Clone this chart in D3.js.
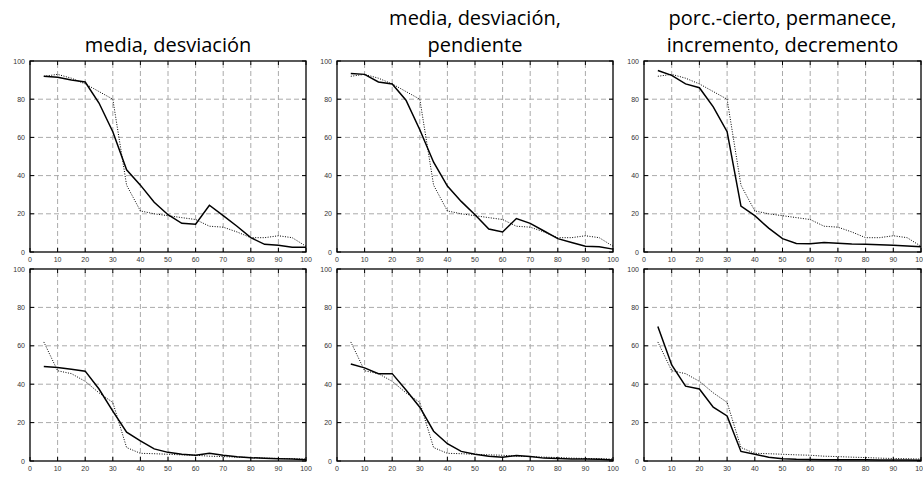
<!DOCTYPE html>
<html>
<head>
<meta charset="utf-8">
<title>curvas</title>
<script src="https://d3js.org/d3.v7.min.js"></script>
<style>
  body { margin: 0; background: #fff; }
  text { font-family: "Liberation Sans", Arial, sans-serif; }
  .title { font-family: "Open Sans", "DejaVu Sans", sans-serif; font-size: 20px; }
</style>
</head>
<body>
<script>
var width = 923, height = 477

var xs = [5,10,15,20,25,30,35,40,45,50,55,60,65,70,75,80,85,90,95,100]
var xTicks = [0,10,20,30,40,50,60,70,80,90,100]
var yTicks = [0,20,40,60,80,100]

var titles = [
  ["media, desviación"],
  ["media, desviación,", "pendiente"],
  ["porc.-cierto, permanece,", "incremento, decremento"]
]

// dotted reference curves (same in each row)
var refTop = [92,93,91,88,84,80,35,21.5,20,19,18,17,13.5,13,10.5,7.5,7.5,8.5,7.5,3]
var refBottom = [62,47,45.5,41.5,35.5,30.5,7,4,3.8,3.5,3.2,3,2.5,2.3,2,1.8,1.5,1.3,1.2,1]

// solid curves
var top1 = [92,91.5,90,89,78,63,43,35,26,19.5,15,14.5,24.5,19,13.5,7.5,4,3.5,2.5,2.5]
var top2 = [93.5,93,89,88,79.5,64,47,34.5,26.5,19.5,12,10.5,17.5,15,11,7,5,3,2.8,1.5]
var top3 = [95,92.5,88,86,76,63,24,19,12.5,7,4.5,4.3,5,4.6,4.2,4,3.8,3.5,3.2,2.7]
var bot1 = [49.2,48.7,47.8,46.8,37.5,26,15,10.5,6.3,4.5,3.5,3,4,3,2.2,1.7,1.4,1.2,1,0.7]
var bot2 = [50.5,48.5,45.5,45.5,37,28,15.5,9,5,3.5,2.5,2,2.8,2.4,1.5,1.3,1.1,1,0.9,0.5]
var bot3 = [70,50,39,37.5,28,23.5,5,3.5,2,1.2,0.9,0.8,0.7,0.7,0.6,0.6,0.5,0.5,0.5,0.4]

var colsX = [[30,306],[337,613],[644,921]]
var rowsY = [[61,252],[269,461]]

var svg = d3.select("body").append("svg").attr("width",width).attr("height",height)

var panels = [
  {row:0,col:0,solid:top1,ref:refTop},
  {row:0,col:1,solid:top2,ref:refTop},
  {row:0,col:2,solid:top3,ref:refTop},
  {row:1,col:0,solid:bot1,ref:refBottom},
  {row:1,col:1,solid:bot2,ref:refBottom},
  {row:1,col:2,solid:bot3,ref:refBottom}
]

panels.forEach(function(p){
  var x = d3.scaleLinear().domain([0,100]).range(colsX[p.col])
  var y = d3.scaleLinear().domain([0,100]).range([rowsY[p.row][1], rowsY[p.row][0]])
  var g = svg.append("g")

  // grid
  g.selectAll(".gx").data(xTicks.slice(1,-1)).enter().append("line")
    .attr("x1",d=>x(d)).attr("x2",d=>x(d)).attr("y1",y(0)).attr("y2",y(100))
    .attr("stroke","#aaa").attr("stroke-width",1).attr("stroke-dasharray","5,3")
  g.selectAll(".gy").data(yTicks.slice(1,-1)).enter().append("line")
    .attr("x1",x(0)).attr("x2",x(100)).attr("y1",d=>y(d)).attr("y2",d=>y(d))
    .attr("stroke","#aaa").attr("stroke-width",1).attr("stroke-dasharray","5,3")

  // inner ticks
  var tk = 4
  xTicks.forEach(function(t){
    g.append("line").attr("x1",x(t)).attr("x2",x(t)).attr("y1",y(0)).attr("y2",y(0)-tk).attr("stroke","#000")
    g.append("line").attr("x1",x(t)).attr("x2",x(t)).attr("y1",y(100)).attr("y2",y(100)+tk).attr("stroke","#000")
  })
  yTicks.forEach(function(t){
    g.append("line").attr("x1",x(0)).attr("x2",x(0)+tk).attr("y1",y(t)).attr("y2",y(t)).attr("stroke","#000")
    g.append("line").attr("x1",x(100)).attr("x2",x(100)-tk).attr("y1",y(t)).attr("y2",y(t)).attr("stroke","#000")
  })

  // tick labels
  g.selectAll(".xl").data(xTicks).enter().append("text")
    .attr("x",d=>x(d)).attr("y",y(0)+10).attr("text-anchor","middle")
    .attr("font-size",7).attr("fill","#333").text(d=>d)
  g.selectAll(".yl").data(yTicks).enter().append("text")
    .attr("x",x(0)-5).attr("y",d=>y(d)+2.5).attr("text-anchor","end")
    .attr("font-size",7).attr("fill","#333").text(d=>d)

  var line = d3.line().x((d,i)=>x(xs[i])).y(d=>y(d))

  g.append("path").datum(p.ref).attr("d",line).attr("fill","none")
    .attr("stroke","#000").attr("stroke-width",1).attr("stroke-dasharray","1,1.5")
  g.append("path").datum(p.solid).attr("d",line).attr("fill","none")
    .attr("stroke","#000").attr("stroke-width",1.5)

  // frame
  g.append("rect").attr("x",x(0)).attr("y",y(100)).attr("width",x(100)-x(0)).attr("height",y(0)-y(100))
    .attr("fill","none").attr("stroke","#000").attr("stroke-width",1.3)

  if(p.row==0){
    var lines = titles[p.col]
    var cx = (x(0)+x(100))/2
    lines.forEach(function(s,i){
      g.append("text").attr("class","title").attr("x",cx)
        .attr("y",52 - (lines.length-1-i)*27).attr("text-anchor","middle").text(s)
    })
  }
})
</script>
</body>
</html>
